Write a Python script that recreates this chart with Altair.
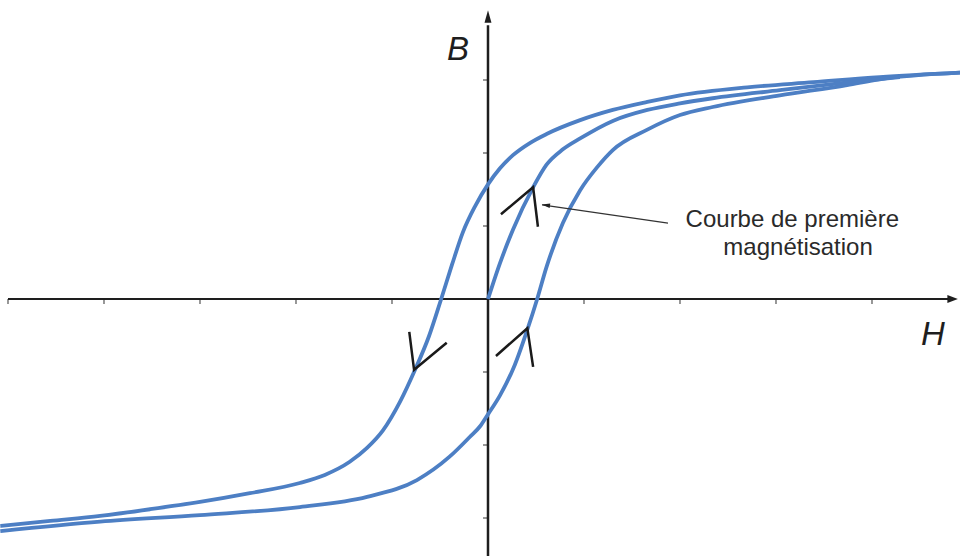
import altair as alt
import pandas as pd

# Hysteresis loop B(H): descending branch, ascending branch, first-magnetisation curve
desc_h = [4.92, 4.08, 3.39, 2.70, 2.00, 1.66, 1.30, 0.96, 0.61, 0.44, 0.26, 0.125, 0.00,
          -0.135, -0.26, -0.375, -0.49, -0.615, -0.76, -0.917, -1.094, -1.26, -1.44, -1.70,
          -1.96, -2.48, -3.00, -3.52, -4.04, -4.56, -5.08]
desc_b = [3.10, 3.04, 2.97, 2.90, 2.79, 2.70, 2.59, 2.45, 2.26, 2.14, 1.97, 1.79, 1.57,
          1.27, 0.92, 0.47, -0.01, -0.51, -0.97, -1.41, -1.80, -2.04, -2.23, -2.41,
          -2.52, -2.66, -2.78, -2.88, -2.97, -3.04, -3.11]

asc_h = [-5.08, -4.04, -3.00, -1.96, -1.26, -0.74, -0.40, -0.19, -0.08, 0.00, 0.125, 0.28,
         0.41, 0.51, 0.61, 0.78, 0.96, 1.14, 1.30, 1.66, 2.00, 2.34, 3.04, 3.74, 4.08, 4.92]
asc_b = [-3.18, -3.05, -2.96, -2.85, -2.71, -2.48, -2.16, -1.89, -1.74, -1.58, -1.32, -0.90,
         -0.42, -0.01, 0.44, 1.04, 1.49, 1.81, 2.04, 2.32, 2.52, 2.63, 2.79, 2.93, 3.01, 3.10]

first_h = [0.00, 0.02, 0.125, 0.26, 0.47, 0.61, 0.78, 0.96, 1.30, 1.66, 2.00, 2.34, 3.04, 3.77, 4.29]
first_b = [0.00, 0.08, 0.49, 0.95, 1.53, 1.84, 2.05, 2.20, 2.44, 2.59, 2.68, 2.75, 2.86, 2.97, 3.04]

# Direction chevrons along the curves (arm, tip, arm)
chevron_h = [[0.135, 0.47, 0.52], [-0.82, -0.77, -0.43], [0.083, 0.41, 0.47]]
chevron_b = [[1.16, 1.53, 0.99], [-0.45, -0.97, -0.60], [-0.78, -0.40, -0.93]]

# Annotation pointing at the first-magnetisation curve
note_lines = ["Courbe de première", "magnétisation"]
note_h = [3.17, 3.23]
note_b = [0.986, 0.603]
pointer_h = [1.875, 0.5625]
pointer_b = [1.04, 1.29]

axis_names = ["B", "H"]
axis_name_h = [-0.3125, 4.635]
axis_name_b = [3.274, -0.63]

tick_h = [-5, -4, -3, -2, -1, 1, 2, 3, 4]
tick_b = [-3, -2, -1, 1, 2, 3]

X_DOM = [-5.0833, 4.9167]
Y_DOM = [-3.5205, 4.0959]
xs = alt.Scale(domain=X_DOM, nice=False, zero=False)
ys = alt.Scale(domain=Y_DOM, nice=False, zero=False)

rows = []
for name, hs, bs in [("desc", desc_h, desc_b), ("asc", asc_h, asc_b), ("first", first_h, first_b)]:
    for h, b in zip(hs, bs):
        rows.append({"branch": name, "h": h, "b": b})
curves = pd.DataFrame(rows)

crows = []
for k, (hs, bs) in enumerate(zip(chevron_h, chevron_b)):
    for i, (h, b) in enumerate(zip(hs, bs)):
        crows.append({"id": k, "seq": i, "h": h, "b": b})
chev = pd.DataFrame(crows)

X = alt.X("h:Q", scale=xs, axis=None)
Y = alt.Y("b:Q", scale=ys, axis=None)

axis_color = "#1e1e1e"

x_axis = alt.Chart(pd.DataFrame({"h": [-5.0], "h2": [4.80], "b": [0.0]})).mark_rule(
    color=axis_color, strokeWidth=2
).encode(x=X, x2="h2:Q", y=Y)

y_axis = alt.Chart(pd.DataFrame({"h": [0.0], "b": [-3.52], "b2": [3.75]})).mark_rule(
    color=axis_color, strokeWidth=2.5
).encode(x=X, y=Y, y2="b2:Q")

x_head = alt.Chart(pd.DataFrame({"h": [4.84], "b": [0.0]})).mark_point(
    shape="M -1 -0.75 L 1 0 L -1 0.75 Z", size=110, filled=True, opacity=1, color=axis_color
).encode(x=X, y=Y)

y_head = alt.Chart(pd.DataFrame({"h": [0.0], "b": [3.87]})).mark_point(
    shape="M 0 -1 L 0.55 1 L -0.55 1 Z", size=160, filled=True, opacity=1, color=axis_color
).encode(x=X, y=Y)

x_ticks = alt.Chart(pd.DataFrame({"h": tick_h, "b": [0.0] * len(tick_h)})).mark_tick(
    orient="vertical", size=5, thickness=1.3, yOffset=2.5, color=axis_color
).encode(x=X, y=Y)

y_ticks = alt.Chart(pd.DataFrame({"h": [0.0] * len(tick_b), "b": tick_b})).mark_tick(
    orient="horizontal", size=5, thickness=1.3, xOffset=-2.5, color=axis_color
).encode(x=X, y=Y)

# each branch is single-valued in H, so a monotone curve through the points keeps it smooth
loop = alt.Chart(curves).mark_line(
    color="#4d7fc4", strokeWidth=3.8, interpolate="monotone"
).encode(x=X, y=Y, detail="branch:N")

chevrons = alt.Chart(chev).mark_line(
    color="#1a1a1a", strokeWidth=2.5, strokeJoin="miter"
).encode(x=X, y=Y, detail="id:N", order="seq:Q")

pointer = alt.Chart(pd.DataFrame({"h": [pointer_h[0]], "b": [pointer_b[0]],
                                  "h2": [pointer_h[1]], "b2": [pointer_b[1]]})).mark_rule(
    color="#333333", strokeWidth=1.2
).encode(x=X, y=Y, x2="h2:Q", y2="b2:Q")

pointer_head = alt.Chart(pd.DataFrame({"h": [pointer_h[1] + 0.04], "b": [pointer_b[1] - 0.005]})).mark_point(
    shape="M -1 0 L 1 -0.55 L 1 0.55 Z", size=70, angle=8, filled=True, opacity=1, color="#222222"
).encode(x=X, y=Y)

notes = alt.Chart(pd.DataFrame({"h": note_h, "b": note_b, "t": note_lines})).mark_text(
    font="Liberation Sans", fontSize=24, color="#2a2a2a", align="center", baseline="alphabetic"
).encode(x=X, y=Y, text="t:N")

names = alt.Chart(pd.DataFrame({"h": axis_name_h, "b": axis_name_b, "t": axis_names})).mark_text(
    font="Liberation Sans", fontSize=33, fontStyle="italic", color="#1e1e1e",
    align="center", baseline="alphabetic"
).encode(x=X, y=Y, text="t:N")

chart = alt.layer(
    x_axis, y_axis, x_ticks, y_ticks, x_head, y_head,
    loop, chevrons, pointer, pointer_head, notes, names
).properties(
    width=960, height=556, background="white",
    autosize=alt.AutoSizeParams(type="none"), padding=0
).configure_view(stroke=None)

chart.save("out.html", embed_options={"renderer": "svg", "actions": False})
